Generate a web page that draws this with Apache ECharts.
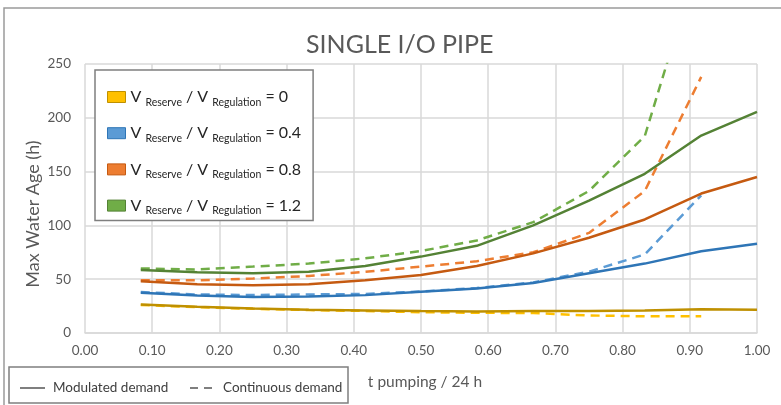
<!DOCTYPE html>
<html>
<head>
<meta charset="utf-8">
<script src="https://cdn.jsdelivr.net/npm/echarts@6/dist/echarts.min.js"></script>
<style>
html,body{margin:0;padding:0;background:#fff;}
#chart{width:781px;height:405px;}
</style>
</head>
<body>
<div id="chart"></div>
<script>
// ---- data ----
const tPumping = [0.083, 0.167, 0.25, 0.333, 0.417, 0.5, 0.583, 0.667, 0.75, 0.833, 0.917, 1.0];
const ratios = ['0', '0.4', '0.8', '1.2'];
const xTickLabels = ['0.00','0.10','0.20','0.30','0.40','0.50','0.60','0.70','0.80','0.90','1.00'];
const yTickLabels = ['0','50','100','150','200','250'];

// Modulated demand (solid)
const modulated0   = [26.5, 24.4, 22.8, 21.6, 21.0, 20.4, 20.0, 20.5, 20.5, 20.8, 22.0, 21.5];
const modulated04  = [37.5, 34.8, 33.5, 34.0, 35.2, 38.3, 41.4, 46.5, 55.5, 64.5, 76.0, 83.0];
const modulated08  = [48.0, 45.4, 44.4, 45.4, 49.0, 54.0, 62.3, 74.0, 88.5, 105.5, 129.6, 145.0];
const modulated12  = [58.5, 56.5, 55.5, 57.0, 62.3, 71.0, 81.0, 100.0, 123.0, 148.0, 183.5, 205.5];

// Continuous demand (dashed)
const continuous0  = [26.0, 24.0, 22.5, 21.3, 20.5, 19.3, 18.8, 18.5, 16.3, 15.5, 15.5];
const continuous04 = [38.0, 35.8, 35.3, 35.8, 36.3, 38.6, 41.8, 47.0, 57.0, 73.0, 128.0];
const continuous08 = [49.0, 49.0, 50.6, 53.0, 56.8, 61.7, 66.7, 75.0, 93.0, 132.0, 238.0];
const continuous12 = [60.0, 59.0, 61.7, 64.5, 69.4, 76.2, 86.0, 103.0, 132.0, 183.0, 355.0];

const modulated = [modulated0, modulated04, modulated08, modulated12];
const continuous = [continuous0, continuous04, continuous08, continuous12];

// ---- styles ----
const solidColors  = ['#BF9000', '#2E75B6', '#C55A11', '#548235'];
const dashedColors = ['#FFC000', '#5B9BD5', '#ED7D31', '#70AD47'];
const iconBorders  = ['#BF9000', '#2E75B6', '#C55A11', '#548235'];
const FONT = 'Lato, "Open Sans", sans-serif';

function pairs(vals) { return vals.map((v, i) => [tPumping[i], v]); }

const series = [];
ratios.forEach((r, i) => {
  series.push({
    name: r, type: 'line', data: pairs(continuous[i]), symbol: 'none', clip: true,
    lineStyle: { color: dashedColors[i], width: 2.5, type: [9, 6] },
    itemStyle: { color: dashedColors[i] }, z: 2
  });
});
ratios.forEach((r, i) => {
  series.push({
    name: r, type: 'line', data: pairs(modulated[i]), symbol: 'none', clip: true,
    lineStyle: { color: solidColors[i], width: 2.5 },
    itemStyle: { color: solidColors[i] }, z: 3
  });
});

const chart = echarts.init(document.getElementById('chart'));
chart.setOption({
  animation: false,
  backgroundColor: '#fff',
  title: {
    text: 'SINGLE I/O PIPE', left: 301, top: 27,
    textStyle: { fontFamily: FONT, fontSize: 25, fontWeight: 'normal', color: '#595959' }
  },
  grid: { left: 85, right: 24, top: 64, bottom: 72, containLabel: false },
  xAxis: {
    type: 'value', min: 0, max: 1, interval: 0.1,
    name: 't pumping / 24 h', nameLocation: 'middle', nameGap: 41,
    nameTextStyle: { fontFamily: FONT, fontSize: 15.5, color: '#595959', padding: [0, 0, 0, 8] },
    axisLine: { show: true, lineStyle: { color: '#d9d9d9', width: 1.5 } },
    axisTick: { show: false },
    splitLine: { show: true, lineStyle: { color: '#d9d9d9', width: 1.5 } },
    axisLabel: {
      margin: 11, fontFamily: FONT, fontSize: 13.5, color: '#595959',
      formatter: v => xTickLabels[Math.round(v * 10)]
    }
  },
  yAxis: {
    type: 'value', min: 0, max: 250, interval: 50,
    axisLine: { show: false }, axisTick: { show: false },
    splitLine: { show: true, lineStyle: { color: '#d9d9d9', width: 1.5 } },
    axisLabel: {
      margin: 14, fontFamily: FONT, fontSize: 13.5, color: '#595959',
      formatter: v => yTickLabels[Math.round(v / 50)]
    }
  },
  legend: {
    orient: 'vertical', left: 95, top: 70,
    padding: [19, 12, 4, 12],
    backgroundColor: '#fff', borderColor: '#7f7f7f', borderWidth: 1.5,
    itemWidth: 18, itemHeight: 11, itemGap: 17.2, icon: 'rect',
    selectedMode: false,
    data: ratios.map((r, i) => ({
      name: r, icon: 'rect',
      itemStyle: { color: dashedColors[i], borderColor: iconBorders[i], borderWidth: 1 }
    })),
    formatter: name => '{v|V }{s|Reserve}{v| / V }{s|Regulation}{v| = ' + name + '}',
    textStyle: {
      rich: {
        v: { fontFamily: FONT, fontSize: 16, color: '#262626', lineHeight: 22 },
        s: { fontFamily: FONT, fontSize: 10.5, color: '#262626', lineHeight: 11, verticalAlign: 'bottom' }
      }
    }
  },
  graphic: [
    { type: 'polyline', shape: { points: [[4, 405], [4, 8], [781, 8]] },
      style: { stroke: '#9a9a9a', lineWidth: 1.5, fill: null }, silent: true },
    { type: 'text', x: 33, y: 214, rotation: Math.PI / 2,
      style: { text: 'Max Water Age (h)', fontFamily: FONT, fontSize: 18, fill: '#595959', align: 'center', verticalAlign: 'middle' } },
    { type: 'rect', shape: { x: 9, y: 367, width: 339, height: 36 },
      style: { stroke: '#7f7f7f', lineWidth: 1.5, fill: '#fff' }, silent: true, z: 10 },
    { type: 'line', shape: { x1: 20, y1: 388, x2: 45, y2: 388 },
      style: { stroke: '#7f7f7f', lineWidth: 2 }, z: 11 },
    { type: 'text', x: 53, y: 388,
      style: { text: 'Modulated demand', fontFamily: FONT, fontSize: 13.5, fill: '#404040', verticalAlign: 'middle' }, z: 11 },
    { type: 'line', shape: { x1: 190, y1: 388, x2: 215, y2: 388 },
      style: { stroke: '#7f7f7f', lineWidth: 2, lineDash: [8, 6] }, z: 11 },
    { type: 'text', x: 223, y: 388,
      style: { text: 'Continuous demand', fontFamily: FONT, fontSize: 13.5, fill: '#404040', verticalAlign: 'middle' }, z: 11 }
  ],
  series: series
});
</script>
</body>
</html>
